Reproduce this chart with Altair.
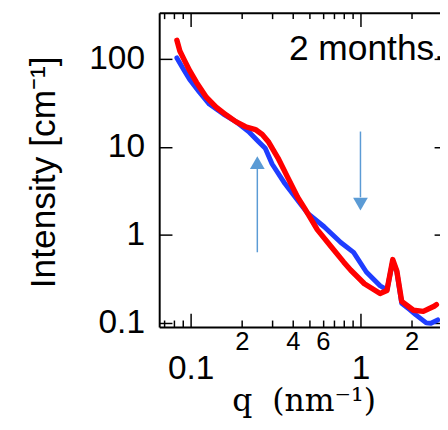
import altair as alt
import pandas as pd

# ---- data ----
red_q = [0.083, 0.0864, 0.0923, 0.0987, 0.1083, 0.1237, 0.1413, 0.1615, 0.1845, 0.2107,
         0.2407, 0.2642, 0.2862, 0.327, 0.3735, 0.4267, 0.4684, 0.5569, 0.6708, 0.7976,
         0.875, 1.055, 1.305, 1.432, 1.55, 1.637, 1.749, 2.051, 2.344, 2.714, 2.80]
red_I = [163, 123, 95, 73.4, 53.9, 36.7, 28.3, 23.1, 19.3, 16.9,
         15.7, 13.8, 11.5, 7.44, 4.45, 2.66, 2.0, 1.14, 0.734, 0.486,
         0.396, 0.276, 0.214, 0.231, 0.52, 0.386, 0.174, 0.138, 0.134, 0.153, 0.16]

blue_q = [0.083, 0.0911, 0.0987, 0.1127, 0.1288, 0.1551, 0.1845, 0.2193, 0.2505, 0.275,
          0.3018, 0.3589, 0.4267, 0.4875, 0.6111, 0.7663, 0.9111, 1.083, 1.305, 1.432,
          1.55, 1.637, 1.749, 1.95, 2.12, 2.44, 2.60, 2.85]
blue_I = [102.6, 75.4, 58.2, 41.7, 30.6, 23.7, 19.3, 14.9, 11.5, 9.62,
          6.37, 3.81, 2.46, 1.76, 1.23, 0.814, 0.629, 0.376, 0.262, 0.235,
          0.50, 0.38, 0.165, 0.14, 0.122, 0.099, 0.098, 0.107]

arrow_q = [0.247, 1.0]
arrow_from = [0.63, 14.9]
arrow_to = [5.6, 2.66]
arrow_head = [6.6, 2.22]
arrow_shape = ["triangle-up", "triangle-down"]

label_text = ["2 months."]
label_q = [0.379]
label_I = [97.5]

x_label_values = [0.1, 0.2, 0.4, 0.6, 1, 2]
x_tick_values = [0.07, 0.08, 0.09, 0.1, 0.2, 0.3, 0.4, 0.5, 0.6, 0.7, 0.8, 0.9, 1, 2]
y_tick_values = [0.1, 1, 10, 100]

red = pd.DataFrame({"q": red_q, "I": red_I})
blue = pd.DataFrame({"q": blue_q, "I": blue_I})
arrows = pd.DataFrame({"q": arrow_q, "from": arrow_from, "to": arrow_to,
                       "head": arrow_head, "shape": arrow_shape})
labels = pd.DataFrame({"q": label_q, "I": label_I, "label": label_text})

W, H = 286, 320
xscale = alt.Scale(type="log", domain=[0.0653, 2.94], nice=False)
yscale = alt.Scale(type="log", domain=[0.0891, 335], nice=False)

MAJOR = "datum.value == 0.1 || datum.value == 1"
FONT = "Liberation Sans"

x_lab = alt.Axis(
    orient="bottom", values=x_label_values, ticks=False, grid=False,
    domain=True, domainColor="black", domainWidth=2,
    labelExpr="datum.value == 0.1 ? '0.1' : datum.value == 1 ? '1' : datum.value == 0.2 ? '2' : "
              "datum.value == 0.4 ? '4' : datum.value == 0.6 ? '6' : datum.value == 2 ? '2' : ''",
    labelFont=FONT, labelColor="black",
    labelFontSize={"condition": {"test": MAJOR, "value": 34}, "value": 26},
    labelPadding={"condition": {"test": MAJOR, "value": 53}, "value": 23},
    labelBaseline="alphabetic", labelOverlap=False, labelFlush=False,
    title="q\u00a0\u00a0(nm⁻¹)", titleFont="DejaVu Serif", titleFontSize=32,
    titleFontWeight="normal", titleColor="black",
    titleX=147, titleY=85, titleAlign="center", titleBaseline="alphabetic",
)
x_bottom_ticks = alt.Axis(
    orient="top", offset=-H, values=x_tick_values, labels=False, domain=False, grid=False,
    tickColor="black", tickWidth=1.5,
    tickSize={"condition": {"test": MAJOR, "value": 14}, "value": 7}, title=None,
)
x_top_ticks = alt.Axis(
    orient="bottom", offset=-H, values=x_tick_values, labels=False, grid=False,
    domain=True, domainColor="black", domainWidth=2,
    tickColor="black", tickWidth=1.5,
    tickSize={"condition": {"test": MAJOR, "value": 14}, "value": 6}, title=None,
)

y_lab = alt.Axis(
    orient="left", values=y_tick_values, ticks=False, grid=False,
    domain=True, domainColor="black", domainWidth=2,
    labelExpr="datum.value == 0.1 ? '0.1' : datum.value == 1 ? '1' : datum.value == 10 ? '10' : '100'",
    labelFont=FONT, labelFontSize=34, labelColor="black", labelPadding=15,
    labelBaseline="middle", labelOverlap=False, labelFlush=False,
    title="Intensity [cm⁻¹]", titleFont=FONT, titleFontSize=36,
    titleFontWeight="normal", titleColor="black",
    titleX=-107, titleY=162, titleAngle=270, titleAlign="center", titleBaseline="alphabetic",
)
y_left_ticks = alt.Axis(
    orient="right", offset=-W, values=y_tick_values, labels=False, domain=False, grid=False,
    tickColor="black", tickWidth=1.5, tickSize=13, title=None,
)
y_right_ticks = alt.Axis(
    orient="left", offset=-W, values=y_tick_values, labels=False, domain=False, grid=False,
    tickColor="black", tickWidth=1.5, tickSize=6, title=None,
)

blue_line = alt.Chart(blue).mark_line(color="#1f3dff", strokeWidth=5, strokeCap="round",
                                      strokeJoin="round", clip=True).encode(
    x=alt.X("q:Q", scale=xscale, axis=x_bottom_ticks),
    y=alt.Y("I:Q", scale=yscale, axis=y_left_ticks),
    order="q:Q",
)
red_line = alt.Chart(red).mark_line(color="#ff0000", strokeWidth=5.5, strokeCap="round",
                                    strokeJoin="round", clip=True).encode(
    x=alt.X("q:Q", scale=xscale, axis=x_lab),
    y=alt.Y("I:Q", scale=yscale, axis=y_lab),
    order="q:Q",
)
arrow_lines = alt.Chart(arrows).mark_rule(color="#5B9BD5", strokeWidth=1.5).encode(
    x=alt.X("q:Q", scale=xscale, axis=x_top_ticks),
    y=alt.Y("from:Q", scale=yscale, axis=y_right_ticks),
    y2="to:Q",
)
arrow_heads = alt.Chart(arrows).mark_point(filled=True, opacity=1, size=225,
                                           color="#5B9BD5", strokeWidth=0).encode(
    x=alt.X("q:Q", scale=xscale, axis=None),
    y=alt.Y("head:Q", scale=yscale, axis=None),
    shape=alt.Shape("shape:N", scale=None),
)
text = alt.Chart(labels).mark_text(align="left", baseline="alphabetic", fontSize=36,
                                   font=FONT, color="black").encode(
    x=alt.X("q:Q", scale=xscale, axis=None),
    y=alt.Y("I:Q", scale=yscale, axis=None),
    text="label:N",
)

chart = alt.layer(blue_line, red_line, arrow_lines, arrow_heads, text).resolve_axis(
    x="independent", y="independent"
).properties(
    width=W, height=H,
    autosize=alt.AutoSizeParams(type="none"),
    padding={"left": 154, "top": 1, "right": 0, "bottom": 92},
).configure_view(strokeWidth=0)

chart.save("out.html", embed_options={"renderer": "svg", "actions": False})
